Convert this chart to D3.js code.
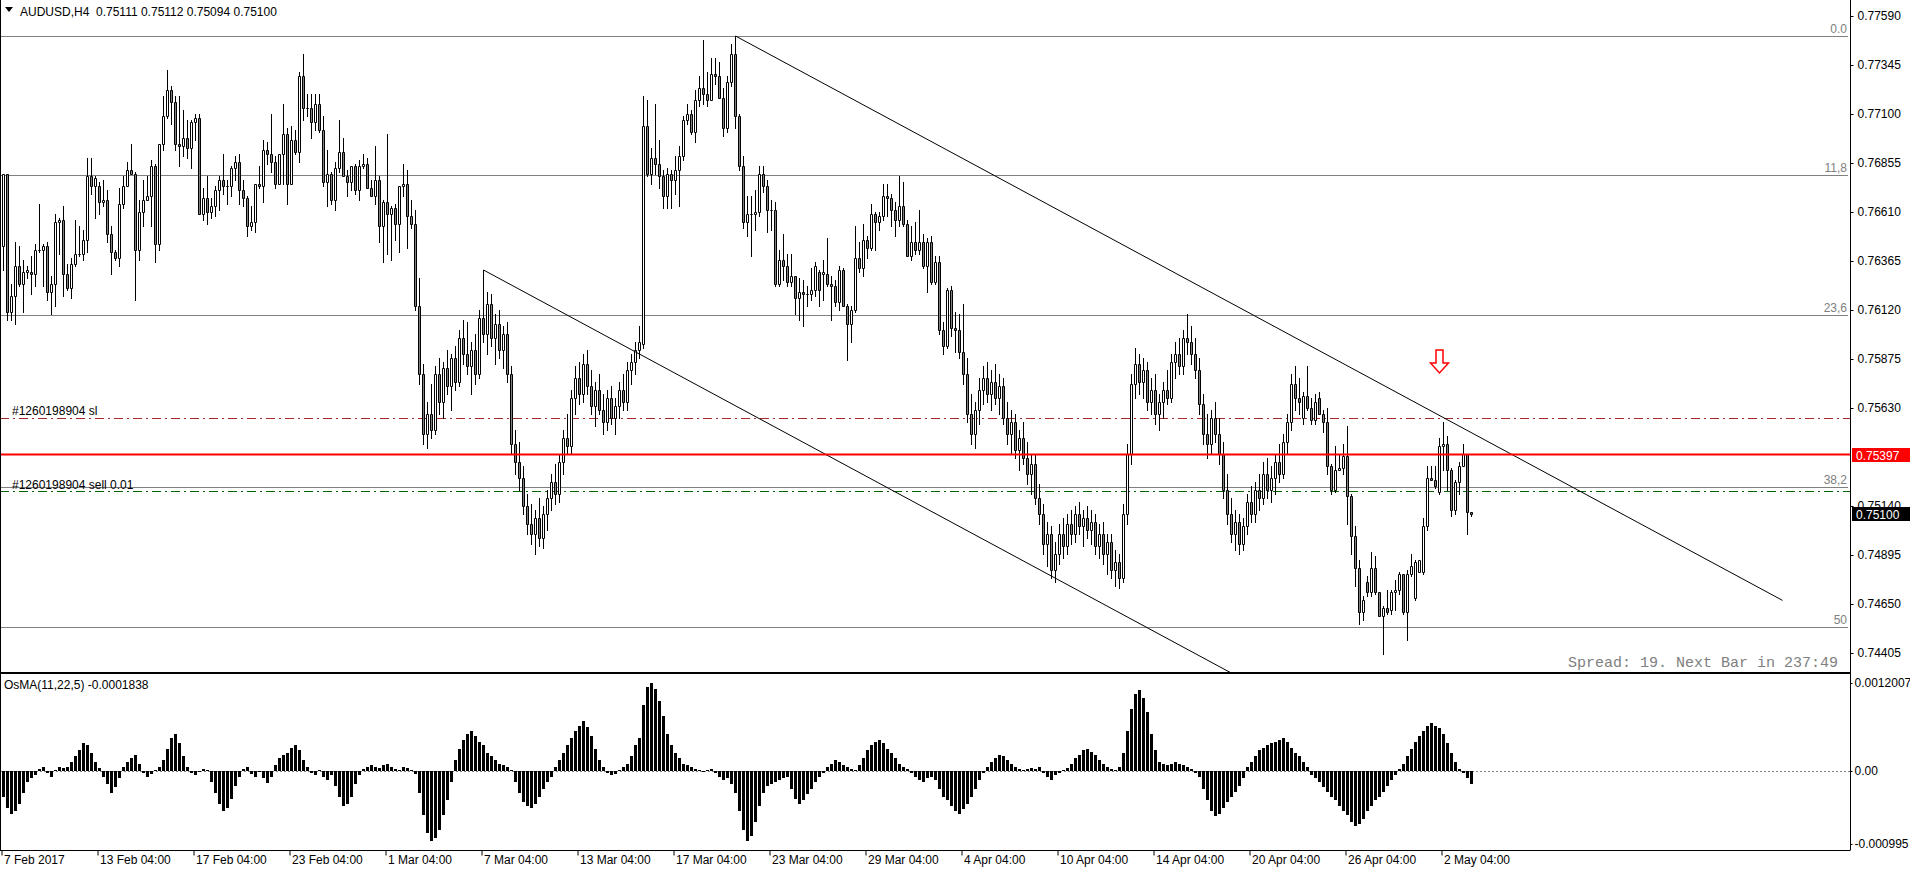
<!DOCTYPE html>
<html>
<head>
<meta charset="utf-8">
<script src="https://cdn.jsdelivr.net/npm/d3@7/dist/d3.min.js"></script>
<style>
body { margin: 0; background: #fff; }
text { font-family: "Liberation Sans", Arial, sans-serif; }
</style>
</head>
<body>
<div id="chart"></div>
<script>
// AUDUSD H4 candles, prices in pips (x 0.0001)
var opens = [
7644,7680,7611,7619,7634,7625,7631,7631,7630,7642, 7642,7644,7621,7625,7656,7657,7630,7623,7635,7640,
7640,7647,7679,7674,7674,7666,7667,7650,7641,7638, 7665,7674,7682,7680,7642,7661,7667,7669,7684,7645,
7695,7709,7722,7716,7695,7694,7698,7693,7706,7708, 7660,7668,7661,7664,7672,7677,7674,7674,7683,7686,
7672,7668,7654,7656,7675,7674,7692,7690,7686,7675, 7690,7700,7675,7697,7691,7729,7713,7713,7706,7715,
7702,7676,7680,7667,7683,7691,7679,7676,7684,7672, 7684,7685,7673,7669,7677,7654,7666,7660,7663,7655,
7674,7675,7659,7655,7614,7580,7550,7560,7552,7580, 7566,7583,7574,7588,7576,7598,7590,7584,7592,7580,
7608,7600,7615,7598,7605,7592,7600,7580,7545,7536, 7528,7514,7505,7500,7508,7498,7510,7518,7526,7520,
7536,7548,7544,7568,7578,7570,7585,7574,7564,7572, 7562,7556,7568,7558,7564,7572,7566,7582,7586,7592,
7595,7704,7680,7688,7685,7679,7669,7680,7677,7682, 7689,7707,7710,7701,7717,7723,7720,7717,7730,7729,
7718,7703,7726,7740,7709,7684,7656,7660,7660,7661, 7680,7674,7662,7662,7625,7637,7634,7626,7629,7618,
7621,7620,7620,7622,7631,7630,7630,7625,7624,7616, 7632,7614,7605,7612,7638,7633,7647,7643,7660,7656,
7659,7669,7668,7662,7657,7664,7655,7639,7646,7642, 7646,7634,7646,7626,7636,7602,7594,7622,7603,7602,
7591,7580,7560,7550,7562,7572,7578,7570,7576,7568, 7574,7558,7550,7556,7542,7548,7538,7530,7535,7518,
7510,7495,7500,7482,7490,7500,7494,7505,7500,7510, 7504,7508,7502,7506,7494,7500,7490,7496,7482,7486,
7478,7510,7540,7575,7585,7576,7582,7566,7572,7560, 7566,7572,7568,7586,7590,7584,7598,7596,7590,7582,
7565,7550,7545,7558,7550,7540,7522,7510,7500,7506, 7495,7504,7516,7510,7522,7518,7530,7522,7528,7536,
7530,7546,7556,7575,7568,7558,7569,7563,7557,7568, 7560,7556,7534,7522,7532,7533,7539,7519,7499,7483,
7461,7476,7471,7483,7471,7459,7463,7462,7471,7472, 7480,7461,7480,7468,7481,7481,7504,7528,7527,7521,
7544,7545,7532,7512,7526,7534,7540,7511
];
var highs = [
7680,7680,7625,7646,7644,7637,7634,7639,7645,7665, 7645,7646,7629,7660,7658,7664,7635,7638,7657,7654,
7652,7688,7688,7679,7676,7677,7672,7654,7642,7673, 7679,7686,7695,7681,7667,7677,7679,7687,7685,7695,
7719,7732,7724,7719,7719,7712,7707,7707,7710,7710, 7673,7679,7668,7674,7679,7690,7677,7684,7689,7690,
7677,7669,7664,7675,7684,7697,7696,7710,7689,7690, 7715,7703,7704,7702,7731,7740,7720,7720,7720,7720,
7709,7692,7681,7686,7707,7698,7682,7684,7685,7687, 7690,7688,7677,7694,7679,7667,7700,7664,7665,7674,
7685,7682,7667,7662,7628,7585,7566,7575,7584,7588, 7586,7592,7590,7594,7602,7607,7606,7596,7600,7612,
7632,7621,7620,7610,7612,7604,7606,7584,7552,7546, 7534,7520,7515,7512,7518,7514,7522,7530,7535,7540,
7552,7560,7572,7584,7586,7590,7592,7582,7576,7580, 7570,7572,7574,7568,7576,7580,7586,7590,7596,7604,
7719,7717,7693,7715,7697,7682,7683,7682,7689,7694, 7709,7715,7712,7722,7729,7747,7731,7738,7738,7736,
7723,7729,7745,7749,7710,7689,7669,7669,7672,7684, 7684,7677,7667,7666,7642,7650,7640,7640,7629,7628,
7627,7624,7633,7636,7632,7637,7648,7629,7627,7634, 7633,7615,7614,7654,7646,7655,7649,7665,7661,7661,
7675,7675,7670,7666,7679,7676,7657,7654,7656,7662, 7650,7648,7649,7639,7639,7606,7623,7624,7611,7610,
7615,7588,7570,7566,7578,7584,7586,7582,7585,7580, 7578,7566,7562,7560,7552,7556,7546,7540,7540,7525,
7515,7506,7504,7496,7505,7508,7510,7512,7514,7516, 7512,7514,7512,7510,7505,7506,7500,7500,7492,7490,
7515,7545,7580,7593,7590,7588,7586,7578,7580,7570, 7576,7582,7590,7596,7598,7602,7610,7604,7598,7588,
7570,7560,7562,7566,7558,7546,7530,7518,7512,7510, 7508,7520,7524,7526,7530,7536,7538,7534,7540,7545,
7550,7560,7580,7584,7578,7571,7584,7568,7570,7571, 7562,7563,7535,7544,7540,7545,7554,7520,7504,7487,
7469,7479,7491,7489,7471,7464,7472,7472,7477,7481, 7480,7482,7490,7487,7487,7508,7534,7534,7534,7548,
7556,7549,7533,7527,7536,7545,7540,7511
];
var lows = [
7632,7607,7607,7605,7624,7611,7628,7620,7624,7641, 7624,7617,7610,7614,7640,7619,7622,7618,7634,7639,
7637,7641,7670,7658,7660,7664,7646,7630,7637,7634, 7663,7674,7680,7617,7637,7654,7667,7654,7636,7642,
7692,7708,7705,7692,7684,7689,7688,7683,7697,7660, 7657,7655,7658,7659,7662,7670,7665,7669,7677,7665,
7664,7649,7652,7651,7673,7666,7685,7681,7673,7675, 7675,7665,7675,7690,7686,7707,7709,7698,7702,7701,
7674,7664,7665,7662,7681,7679,7669,7672,7670,7667, 7683,7673,7669,7665,7646,7636,7640,7637,7647,7641,
7669,7643,7653,7612,7575,7545,7543,7548,7550,7560, 7558,7570,7562,7572,7574,7585,7580,7570,7575,7578,
7596,7590,7594,7585,7588,7583,7576,7540,7530,7522, 7510,7500,7495,7490,7494,7493,7502,7512,7515,7516,
7530,7540,7540,7560,7565,7566,7570,7560,7554,7560, 7550,7552,7555,7550,7558,7562,7562,7575,7580,7588,
7593,7679,7675,7680,7673,7663,7663,7663,7670,7664, 7687,7705,7700,7696,7714,7715,7714,7717,7725,7718,
7699,7701,7724,7703,7682,7653,7649,7639,7652,7659, 7671,7651,7652,7624,7624,7627,7624,7624,7610,7607,
7604,7614,7617,7619,7614,7617,7624,7607,7614,7612, 7614,7587,7596,7611,7631,7629,7638,7642,7642,7652,
7657,7659,7654,7649,7654,7654,7639,7637,7640,7640, 7633,7621,7625,7625,7600,7590,7593,7599,7591,7588,
7575,7556,7545,7543,7555,7565,7566,7562,7565,7560, 7555,7545,7540,7538,7532,7535,7525,7520,7515,7505,
7490,7484,7478,7476,7485,7488,7490,7495,7496,7500, 7494,7498,7495,7490,7488,7485,7480,7478,7474,7473,
7476,7505,7535,7568,7570,7568,7562,7560,7555,7552, 7558,7565,7566,7578,7580,7580,7590,7585,7578,7560,
7545,7538,7540,7546,7535,7518,7505,7496,7492,7490, 7492,7500,7506,7506,7512,7515,7518,7516,7520,7526,
7528,7540,7552,7562,7560,7555,7562,7555,7555,7560, 7551,7530,7520,7521,7532,7530,7505,7490,7474,7455,
7457,7469,7469,7470,7459,7440,7460,7460,7462,7470, 7460,7447,7479,7467,7481,7480,7502,7527,7523,7520,
7532,7522,7509,7510,7520,7534,7500,7509
];
var closes = [
7680,7611,7619,7634,7625,7631,7632,7630,7642,7642, 7644,7621,7625,7656,7657,7630,7623,7635,7640,7640,
7647,7679,7674,7678,7666,7667,7650,7641,7638,7665, 7674,7682,7680,7642,7661,7667,7669,7684,7645,7695,
7709,7722,7716,7695,7694,7698,7693,7706,7708,7660, 7668,7661,7664,7672,7677,7674,7674,7683,7686,7672,
7668,7654,7656,7675,7674,7692,7690,7686,7675,7690, 7700,7675,7697,7691,7729,7713,7713,7706,7715,7702,
7676,7680,7667,7683,7691,7679,7676,7684,7672,7684, 7685,7673,7669,7677,7654,7666,7660,7663,7655,7674,
7675,7659,7655,7614,7580,7550,7560,7552,7580,7566, 7583,7574,7588,7576,7598,7590,7584,7592,7580,7608,
7600,7615,7598,7605,7592,7600,7580,7545,7536,7528, 7514,7505,7500,7508,7498,7510,7518,7526,7520,7536,
7548,7544,7568,7578,7570,7585,7574,7564,7572,7562, 7556,7568,7558,7564,7572,7566,7582,7586,7592,7596,
7704,7680,7688,7685,7679,7669,7680,7677,7682,7689, 7707,7710,7701,7717,7723,7720,7717,7730,7729,7718,
7703,7726,7740,7709,7684,7656,7660,7660,7661,7680, 7674,7662,7662,7625,7637,7634,7626,7629,7618,7621,
7620,7620,7622,7634,7622,7631,7625,7624,7616,7632, 7614,7605,7612,7638,7633,7647,7643,7660,7656,7659,
7669,7668,7662,7657,7664,7655,7639,7646,7642,7646, 7634,7646,7626,7636,7602,7594,7622,7603,7602,7591,
7580,7560,7550,7562,7572,7578,7570,7576,7568,7574, 7558,7550,7556,7542,7548,7538,7530,7535,7518,7510,
7495,7500,7482,7490,7500,7494,7505,7500,7510,7504, 7508,7502,7506,7494,7500,7490,7496,7482,7486,7478,
7510,7540,7575,7585,7576,7582,7566,7572,7560,7566, 7572,7568,7586,7590,7584,7598,7596,7590,7582,7565,
7550,7545,7558,7550,7540,7522,7510,7500,7506,7495, 7504,7516,7510,7522,7518,7530,7522,7528,7536,7530,
7546,7556,7575,7568,7566,7569,7563,7557,7566,7560, 7556,7534,7522,7532,7533,7539,7519,7499,7483,7461,
7467,7471,7483,7471,7459,7463,7461,7471,7472,7480, 7461,7480,7484,7486,7487,7504,7528,7527,7524,7544,
7545,7532,7512,7526,7534,7540,7511,7510
];

// OsMA(11,22,5) histogram, in units of 0.00001
var osma = [
-35,-50,-58,-55,-45,-30,-15,-10,-5,3, 5,-3,-8,2,6,4,5,12,20,28, 38,36,25,12,4,-8,-18,-30,-22,-10,
5,12,18,22,10,-3,-8,-4,2,6, 15,30,45,50,38,20,5,-3,-6,-2, 3,2,-15,-30,-45,-55,-50,-38,-20,-8,
3,6,-4,-8,-2,-10,-16,-8,8,18, 22,25,32,35,28,15,5,-3,-6,2, -8,-12,-5,-20,-35,-48,-45,-35,-18,-6,
3,5,8,6,4,8,10,6,3,2, 5,4,2,-4,-30,-60,-85,-95,-92,-80, -60,-40,-15,15,30,42,50,55,48,40,
35,25,20,15,10,8,5,2,-15,-30, -42,-48,-50,-45,-35,-25,-15,-8,5,15, 25,35,45,55,62,68,60,48,30,15,
5,-3,-6,-4,2,5,10,20,35,45, 90,115,120,112,95,75,50,35,25,18, 10,8,5,3,2,-2,2,3,-3,-8,
-12,-10,-18,-30,-55,-80,-95,-88,-70,-48, -30,-20,-18,-15,-12,-10,-8,-25,-38,-45, -40,-32,-25,-15,-8,-3,5,10,15,12,
8,5,3,2,8,18,28,35,40,42, 38,30,25,18,10,5,3,-3,-8,-12, -15,-10,-8,-12,-25,-35,-40,-48,-55,-58,
-52,-45,-35,-25,-12,-3,5,12,18,22, 20,15,10,6,3,2,3,4,3,5, -3,-8,-12,-6,-3,2,4,10,18,22,
28,30,26,22,15,10,6,3,2,5, 25,55,85,105,110,100,80,50,28,12, 10,8,10,12,10,8,6,3,-3,-8,
-25,-40,-55,-62,-58,-50,-42,-35,-28,-20, -10,5,12,20,28,32,35,38,40,42, 45,40,32,25,20,12,5,-5,-10,-15,
-22,-28,-35,-40,-48,-55,-60,-70,-75,-72, -65,-55,-48,-40,-35,-28,-20,-12,-5,3, 10,20,30,40,48,55,62,65,62,58,
50,38,25,12,3,-3,-10,-18
];

var priceTicks = [0.77590, 0.77345, 0.77100, 0.76855, 0.76610, 0.76365, 0.76120, 0.75875, 0.75630, 0.75140, 0.74895, 0.74650, 0.74405];
var oscTicks = [0.0012007, 0, -0.000995];
var oscTickLabels = ["0.0012007", "0.00", "-0.000995"];
var timeBars = [0, 24, 48, 72, 96, 120, 144, 168, 192, 216, 240, 264, 288, 312, 336, 360];
var timeLabels = ["7 Feb 2017", "13 Feb 04:00", "17 Feb 04:00", "23 Feb 04:00", "1 Mar 04:00", "7 Mar 04:00",
	"13 Mar 04:00", "17 Mar 04:00", "23 Mar 04:00", "29 Mar 04:00", "4 Apr 04:00", "10 Apr 04:00",
	"14 Apr 04:00", "20 Apr 04:00", "26 Apr 04:00", "2 May 04:00"];

var fibLevels = [0.77490, 0.76793, 0.76095, 0.75235, 0.74535];
var fibNames = ["0.0", "11,8", "23,6", "38,2", "50"];

var upperLine = [[183, 0.77490], [444.75, 0.74668]];
var lowerLine = [[120, 0.76320], [310, 0.74272]];

var redLevel = 0.75397;
var slLevel = 0.75580;
var sellLevel = 0.75215;
var lastPrice = 0.75100;
var arrowBar = 359, arrowPrice = 0.75805;

drawchart()
function drawchart() {
	var W = 1910, H = 874;
	var paneRight = 1850, mainBottom = 672, oscTop = 674, oscBottom = 850;

	var svg = d3.select("#chart").append("svg")
		.attr("width", W)
		.attr("height", H)
		.style("display", "block");

	var x = d3.scaleLinear().domain([-0.875, 461.625]).range([0, paneRight]);
	var y = d3.scaleLinear().domain([0.7431, 0.7767]).range([mainBottom, 0]);
	var yo = d3.scaleLinear().domain([-0.001078, 0.001323]).range([oscBottom, oscTop]);
	var px = function(v) { return Math.round(v) + 0.5 };

	var defs = svg.append("defs");
	defs.append("clipPath").attr("id", "clipMain")
		.append("rect").attr("x", 0).attr("y", 0).attr("width", paneRight).attr("height", mainBottom);
	defs.append("clipPath").attr("id", "clipOsc")
		.append("rect").attr("x", 0).attr("y", oscTop).attr("width", paneRight).attr("height", oscBottom - oscTop);

	var main = svg.append("g").attr("clip-path", "url(#clipMain)");

	// fibo levels
	main.selectAll(".fib").data(fibLevels).enter().append("line")
		.attr("x1", 0).attr("x2", paneRight - 2)
		.attr("y1", d => px(y(d))).attr("y2", d => px(y(d)))
		.attr("stroke", "#808080").attr("stroke-width", 1);
	main.selectAll(".fibt").data(fibLevels).enter().append("text")
		.attr("x", paneRight - 3).attr("y", d => y(d) - 3)
		.attr("text-anchor", "end")
		.style("font-size", "12px").style("fill", "#808080")
		.text((d, i) => fibNames[i]);

	// order lines
	main.append("line").attr("x1", 0).attr("x2", paneRight)
		.attr("y1", px(y(slLevel))).attr("y2", px(y(slLevel)))
		.attr("stroke", "#a52a2a").attr("stroke-dasharray", "9,4,2,4");
	main.append("line").attr("x1", 0).attr("x2", paneRight)
		.attr("y1", px(y(sellLevel))).attr("y2", px(y(sellLevel)))
		.attr("stroke", "#006400").attr("stroke-dasharray", "9,4,2,4");
	main.append("text").attr("x", 12).attr("y", px(y(slLevel)) - 4)
		.style("font-size", "12px").text("#1260198904 sl");
	main.append("text").attr("x", 12).attr("y", px(y(sellLevel)) - 3)
		.style("font-size", "12px").text("#1260198904 sell 0.01");

	// candles
	var idx = d3.range(opens.length);
	var candle = main.selectAll(".candle").data(idx).enter().append("g");
	candle.append("line")
		.attr("x1", i => x(i)).attr("x2", i => x(i))
		.attr("y1", i => px(y(highs[i] / 1e4)) - 0.5).attr("y2", i => px(y(lows[i] / 1e4)) + 0.5)
		.attr("stroke", "#000").attr("stroke-width", 1);
	candle.append("path")
		.attr("d", function(i) {
			var t = px(y(Math.max(opens[i], closes[i]) / 1e4));
			var b = px(y(Math.min(opens[i], closes[i]) / 1e4));
			var cx = x(i);
			return "M" + (cx - 1) + "," + t + "H" + (cx + 1) + "V" + b + "H" + (cx - 1) + "Z";
		})
		.attr("fill", i => closes[i] >= opens[i] ? "#fff" : "#808080")
		.attr("stroke", "#000").attr("stroke-width", 1);

	// trend lines
	var tl = d3.line().x(d => x(d[0])).y(d => y(d[1]));
	[upperLine, lowerLine].forEach(function(l) {
		main.append("path").attr("d", tl(l)).attr("fill", "none")
			.attr("stroke", "#000").attr("stroke-width", 1);
	});

	// red horizontal line
	main.append("line").attr("x1", 0).attr("x2", paneRight)
		.attr("y1", y(redLevel)).attr("y2", y(redLevel))
		.attr("stroke", "#ff0000").attr("stroke-width", 2);

	// down arrow
	var ax = x(arrowBar), ay = y(arrowPrice);
	main.append("path")
		.attr("d", "M" + (ax - 3.5) + "," + (ay - 23) + "h7v13h5.5l-9,10l-9,-10h5.5z")
		.attr("fill", "#fff").attr("stroke", "#ff0000").attr("stroke-width", 1.5);

	main.append("text").attr("x", 1838).attr("y", 667)
		.attr("text-anchor", "end")
		.style("font-family", "'Liberation Mono', monospace").style("font-size", "15px")
		.style("fill", "#808080")
		.text("Spread: 19. Next Bar in 237:49");

	// OsMA pane
	var osc = svg.append("g").attr("clip-path", "url(#clipOsc)");
	osc.append("line").attr("x1", 0).attr("x2", paneRight)
		.attr("y1", px(yo(0))).attr("y2", px(yo(0)))
		.attr("stroke", "#808080").attr("stroke-dasharray", "2,2");
	osc.selectAll(".hist").data(idx).enter().append("rect")
		.attr("x", i => x(i) - 1.5)
		.attr("width", 3)
		.attr("y", i => Math.round(Math.min(yo(0), yo(osma[i] / 1e5))))
		.attr("height", i => Math.max(1, Math.round(Math.abs(yo(osma[i] / 1e5) - yo(0)))))
		.attr("fill", "#000");
	svg.append("text").attr("x", 4).attr("y", 689)
		.style("font-size", "12px").text("OsMA(11,22,5) -0.0001838");

	// frames
	var frame = svg.append("g").attr("stroke", "#000").attr("stroke-width", 1);
	frame.append("line").attr("x1", 0.5).attr("x2", 0.5).attr("y1", 0).attr("y2", oscBottom);
	frame.append("line").attr("x1", paneRight + 0.5).attr("x2", paneRight + 0.5).attr("y1", 0).attr("y2", oscBottom + 0.5);
	frame.append("line").attr("x1", 0).attr("x2", paneRight).attr("y1", mainBottom + 0.5).attr("y2", mainBottom + 0.5);
	frame.append("line").attr("x1", 0).attr("x2", paneRight).attr("y1", oscTop - 0.5).attr("y2", oscTop - 0.5);
	frame.append("line").attr("x1", 0).attr("x2", paneRight).attr("y1", oscBottom + 0.5).attr("y2", oscBottom + 0.5);

	// price axis
	var pa = svg.append("g").attr("transform", "translate(" + (paneRight + 0.5) + ",0)")
		.call(d3.axisRight(y).tickValues(priceTicks).tickSize(3).tickPadding(4).tickFormat(d3.format(".5f")));
	pa.select(".domain").remove();
	pa.selectAll("text").style("font-size", "12px").style("font-family", "'Liberation Sans', Arial, sans-serif");

	var oa = svg.append("g").attr("transform", "translate(" + (paneRight + 0.5) + ",0)")
		.call(d3.axisRight(yo).tickValues(oscTicks).tickSize(2).tickPadding(2).tickFormat((d, i) => oscTickLabels[i]));
	oa.select(".domain").remove();
	oa.selectAll("text").style("font-size", "12px").style("font-family", "'Liberation Sans', Arial, sans-serif");

	// price marks on the axis
	var marks = [[redLevel, "#ff0000"], [lastPrice, "#000"]];
	marks.forEach(function(m) {
		var yy = Math.round(y(m[0]));
		svg.append("rect").attr("x", paneRight + 2).attr("y", yy - 7).attr("width", W - paneRight - 2).attr("height", 14)
			.attr("fill", m[1]);
		svg.append("text").attr("x", paneRight + 6).attr("y", yy + 4.5)
			.style("font-size", "12px").style("fill", "#fff").text(d3.format(".5f")(m[0]));
	});

	// time axis
	var ta = svg.append("g").attr("transform", "translate(0," + (oscBottom + 0.5) + ")")
		.call(d3.axisBottom(x).tickValues(timeBars).tickSize(5).tickFormat((d, i) => timeLabels[i]));
	ta.select(".domain").remove();
	ta.selectAll(".tick line").attr("transform", "translate(-2,0)");
	ta.selectAll("text").attr("text-anchor", "start").attr("x", 0).attr("y", 5)
		.style("font-size", "12px").style("font-family", "'Liberation Sans', Arial, sans-serif");

	// header
	svg.append("path").attr("d", "M5,7h8l-4,5z").attr("fill", "#000");
	svg.append("text").attr("x", 20).attr("y", 16)
		.style("font-size", "12px").style("white-space", "pre")
		.text("AUDUSD,H4  0.75111 0.75112 0.75094 0.75100");
}
</script>
</body>
</html>
